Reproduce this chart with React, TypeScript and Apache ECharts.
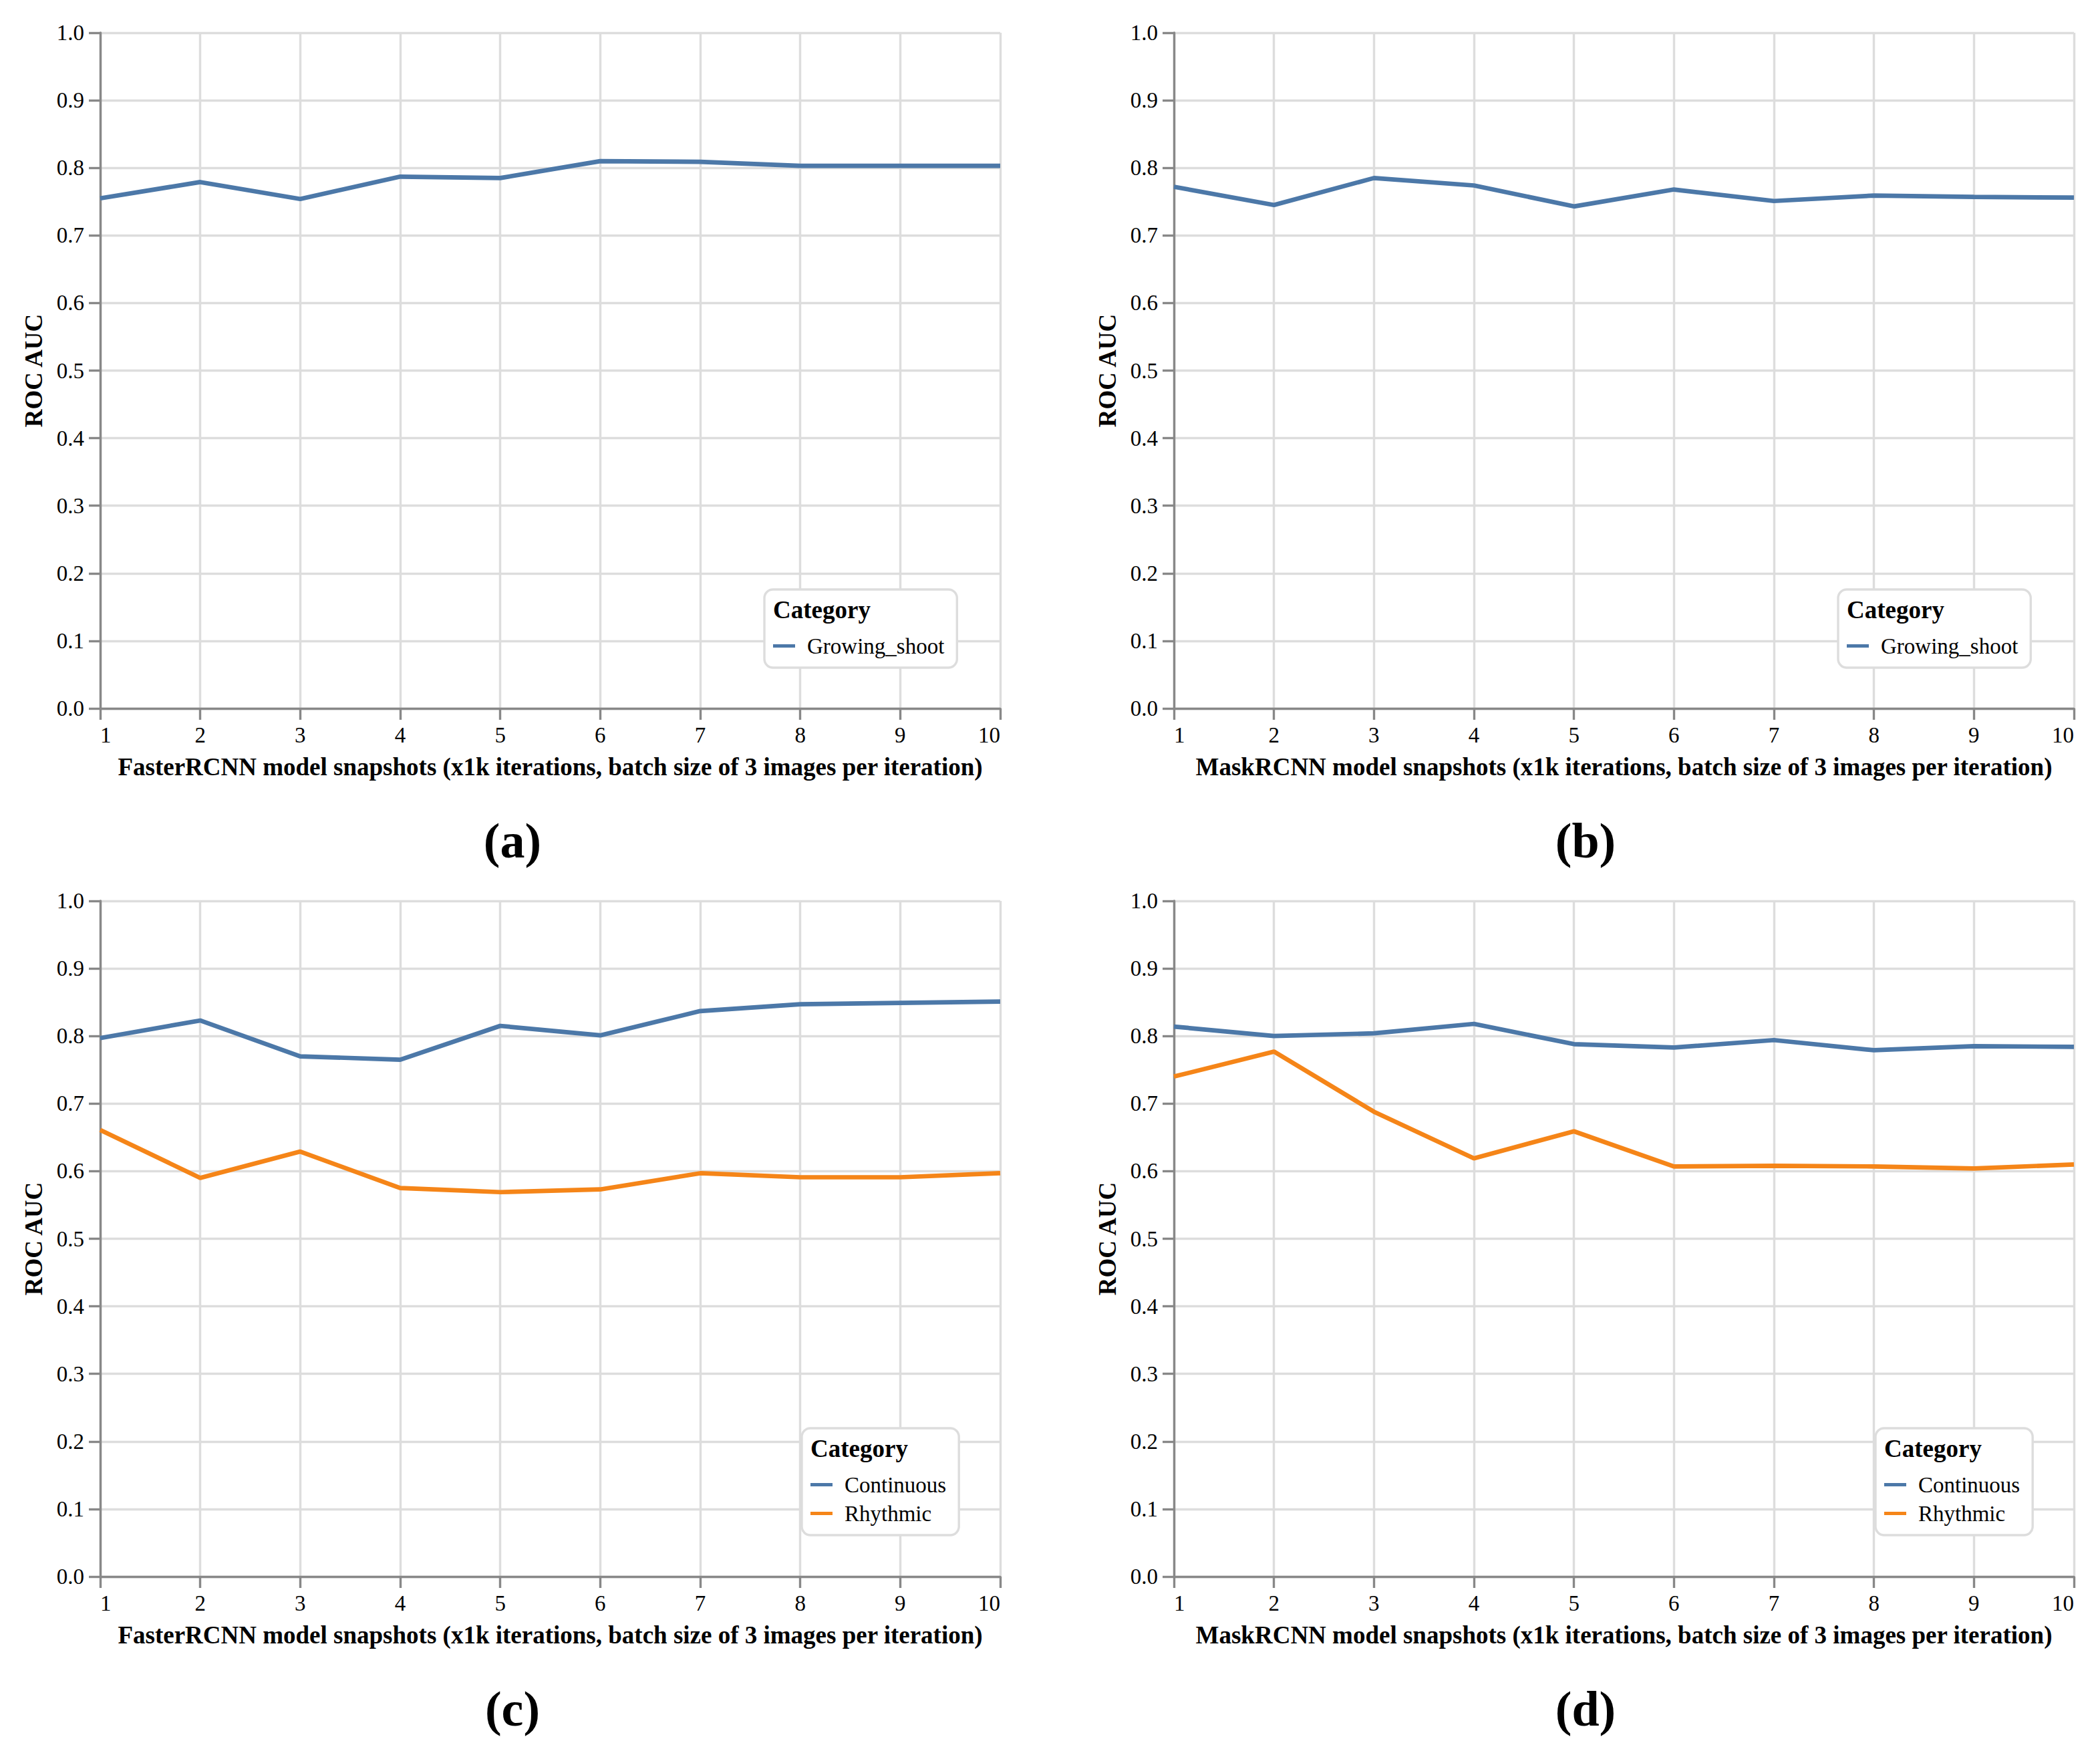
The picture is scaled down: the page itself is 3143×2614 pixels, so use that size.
import React, { useEffect, useRef } from 'react';
import * as echarts from 'echarts';

// model snapshots (x1k iterations)
const snapshots = [1, 2, 3, 4, 5, 6, 7, 8, 9, 10];

// ROC AUC per snapshot
const fasterGrowingShoot = [0.755, 0.779, 0.754, 0.787, 0.785, 0.81, 0.809, 0.803, 0.803, 0.803];
const maskGrowingShoot = [0.772, 0.745, 0.785, 0.774, 0.743, 0.768, 0.751, 0.759, 0.757, 0.756];
const fasterContinuous = [0.797, 0.823, 0.77, 0.765, 0.815, 0.801, 0.837, 0.847, 0.849, 0.851];
const fasterRhythmic = [0.661, 0.59, 0.629, 0.575, 0.569, 0.573, 0.597, 0.591, 0.591, 0.597];
const maskContinuous = [0.814, 0.8, 0.804, 0.818, 0.788, 0.783, 0.794, 0.779, 0.785, 0.784];
const maskRhythmic = [0.74, 0.777, 0.688, 0.619, 0.659, 0.607, 0.608, 0.607, 0.604, 0.61];

const fasterTitle = 'FasterRCNN model snapshots (x1k iterations, batch size of 3 images per iteration)';
const maskTitle = 'MaskRCNN model snapshots (x1k iterations, batch size of 3 images per iteration)';
const yTitle = 'ROC AUC';

const BLUE = '#4c78a8';
const ORANGE = '#f58518';
const FONT = '"Liberation Serif", "Times New Roman", serif';

const W = 3143;
const H = 2614;

const panels = [
  {
    label: '(a)', left: 150, top: 49, xTitle: fasterTitle,
    lines: [{ name: 'Growing_shoot', values: fasterGrowingShoot, color: BLUE }],
    legendLeft: 1144, legendTop: 882, labelX: 767, labelY: 1258,
  },
  {
    label: '(b)', left: 1757, top: 49, xTitle: maskTitle,
    lines: [{ name: 'Growing_shoot', values: maskGrowingShoot, color: BLUE }],
    legendLeft: 2751, legendTop: 882, labelX: 2373, labelY: 1258,
  },
  {
    label: '(c)', left: 150, top: 1348, xTitle: fasterTitle,
    lines: [
      { name: 'Continuous', values: fasterContinuous, color: BLUE },
      { name: 'Rhythmic', values: fasterRhythmic, color: ORANGE },
    ],
    legendLeft: 1200, legendTop: 2137, labelX: 767, labelY: 2557,
  },
  {
    label: '(d)', left: 1757, top: 1348, xTitle: maskTitle,
    lines: [
      { name: 'Continuous', values: maskContinuous, color: BLUE },
      { name: 'Rhythmic', values: maskRhythmic, color: ORANGE },
    ],
    legendLeft: 2807, legendTop: 2137, labelX: 2373, labelY: 2557,
  },
];

const PLOT_W = 1347;
const PLOT_H = 1011;

const App: React.FC = () => {
  const chartRef = useRef<HTMLDivElement>(null);

  useEffect(() => {
    if (!chartRef.current) return;
    const chart = echarts.init(chartRef.current, null, { renderer: 'svg' });

    const axisLine = { show: true, onZero: false, lineStyle: { color: '#888', width: 3.4 } };
    const axisTick = { show: true, length: 17, lineStyle: { color: '#888', width: 3.4 } };
    const splitLine = { show: true, lineStyle: { color: '#ddd', width: 3.4 } };
    const titleStyle = { fontFamily: FONT, fontSize: 37, fontWeight: 'bold', color: '#000' };

    const series: any[] = [];
    panels.forEach((p, i) => {
      p.lines.forEach((l) => {
        series.push({
          type: 'line',
          name: l.name,
          xAxisIndex: i,
          yAxisIndex: i,
          data: snapshots.map((x, k) => [x, l.values[k]]),
          symbol: 'none',
          showSymbol: false,
          lineStyle: { width: 6.7, color: l.color },
          itemStyle: { color: l.color },
        });
      });
    });

    const graphic: any[] = [];
    panels.forEach((p) => {
      graphic.push({
        type: 'text',
        x: p.legendLeft + 13,
        y: p.legendTop + 30,
        z: 100,
        style: { text: 'Category', font: `bold 37px ${FONT}`, fill: '#000', verticalAlign: 'middle' },
      });
      graphic.push({
        type: 'text',
        x: p.labelX,
        y: p.labelY,
        style: { text: p.label, font: `bold 74px ${FONT}`, fill: '#000', align: 'center', verticalAlign: 'middle' },
      });
    });

    chart.setOption({
      animation: false,
      backgroundColor: '#fff',
      grid: panels.map((p) => ({ left: p.left, top: p.top, width: PLOT_W, height: PLOT_H, containLabel: false })),
      xAxis: panels.map((p, i) => ({
        gridIndex: i,
        type: 'value',
        min: 1,
        max: 10,
        interval: 1,
        name: p.xTitle,
        nameLocation: 'middle',
        nameGap: 69,
        nameTextStyle: titleStyle,
        axisLine,
        axisTick,
        splitLine,
        axisLabel: {
          fontFamily: FONT, fontSize: 33, color: '#000', margin: 23,
          alignMinLabel: 'left', alignMaxLabel: 'right',
        },
      })),
      yAxis: panels.map((_, i) => ({
        gridIndex: i,
        type: 'value',
        min: 0,
        max: 1,
        interval: 0.1,
        name: yTitle,
        nameLocation: 'middle',
        nameGap: 81,
        nameTextStyle: titleStyle,
        axisLine,
        axisTick,
        splitLine,
        axisLabel: {
          fontFamily: FONT, fontSize: 33, color: '#000', margin: 24,
          formatter: (v: number) => v.toFixed(1),
        },
      })),
      legend: panels.map((p) => ({
        orient: 'vertical',
        left: p.legendLeft,
        top: p.legendTop,
        data: p.lines.map((l) => l.name),
        icon: 'rect',
        itemWidth: 33,
        itemHeight: 5,
        itemGap: 10,
        padding: [68, 19, 16, 13],
        backgroundColor: '#fff',
        borderColor: '#ddd',
        borderWidth: 3.4,
        borderRadius: 13,
        selectedMode: false,
        textStyle: { fontFamily: FONT, fontSize: 33, color: '#000', padding: [0, 0, 0, 13] },
      })),
      graphic,
      series,
    });

    return () => {
      chart.dispose();
    };
  }, []);

  return (
    <div
      ref={chartRef}
      style={{ position: 'fixed', left: 0, top: 0, width: `${W}px`, height: `${H}px` }}
    />
  );
};

export default App;
